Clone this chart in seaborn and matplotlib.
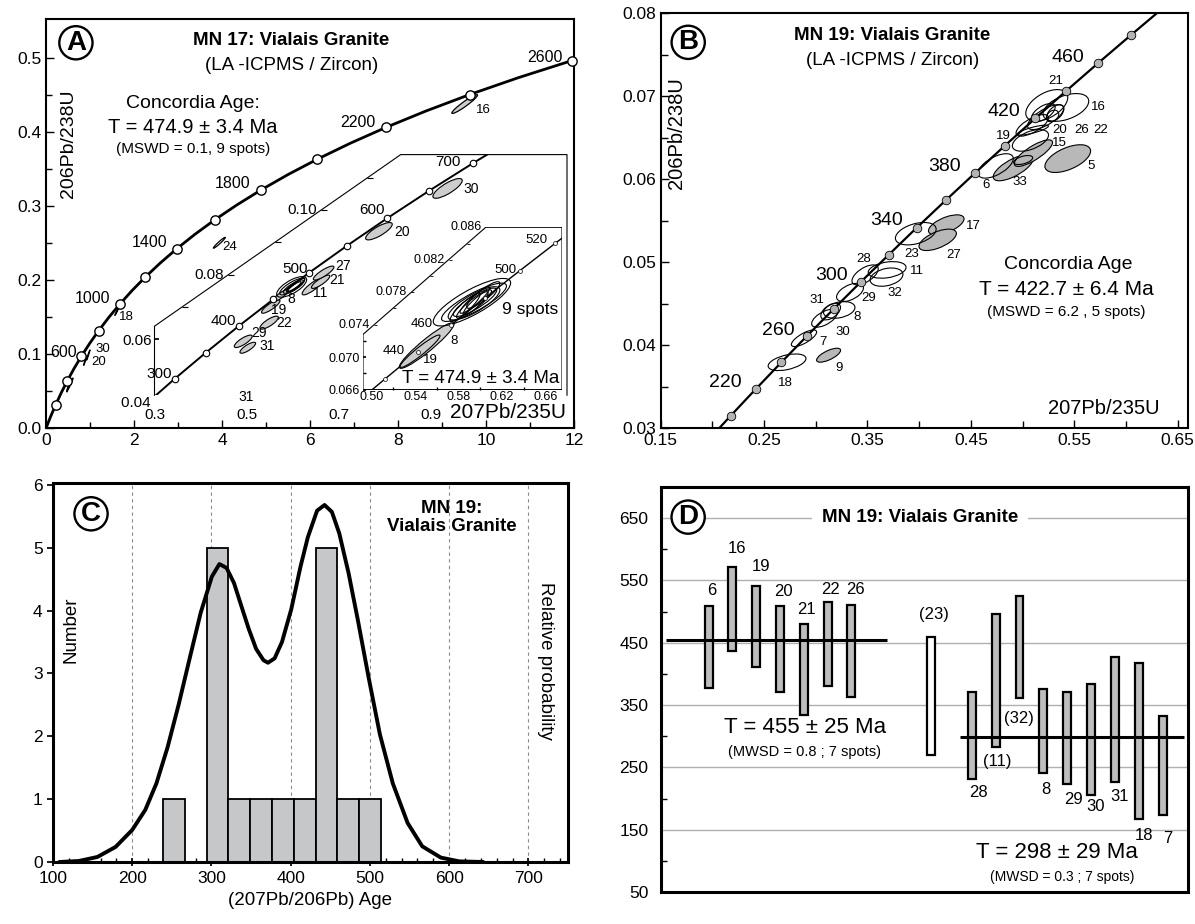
import numpy as np
import pandas as pd
import matplotlib
matplotlib.use("Agg")
import matplotlib.pyplot as plt
import seaborn as sns
from matplotlib.patches import Ellipse, Polygon
from matplotlib.transforms import Affine2D
from matplotlib.ticker import FixedLocator, FormatStrFormatter
from matplotlib.lines import TICKRIGHT

# ============================ DATA ============================
# Concordia curve points (age in Ma, 207Pb/235U, 206Pb/238U)
conc_age = [0, 100, 180, 200, 220, 240, 250, 260, 280, 300, 320, 340, 350, 360, 380, 400, 420, 440, 450, 460,
            480, 500, 520, 540, 550, 600, 650, 700, 750, 800, 900, 1000, 1100, 1200, 1300, 1400, 1500, 1600,
            1700, 1800, 1900, 2000, 2100, 2200, 2300, 2400, 2500, 2600]
conc_x = [0.0, 0.1035, 0.1940, 0.2177, 0.2419, 0.2666, 0.2792, 0.2918, 0.3175, 0.3437, 0.3705, 0.3977, 0.4116,
          0.4255, 0.4539, 0.4828, 0.5123, 0.5424, 0.5577, 0.5731, 0.6044, 0.6363, 0.6688, 0.7020, 0.7188, 0.8056,
          0.8968, 0.9925, 1.0930, 1.1987, 1.4264, 1.6774, 1.9545, 2.2604, 2.5977, 2.9703, 3.3811, 3.8348, 4.3351,
          4.8875, 5.4962, 6.1694, 6.9105, 7.7303, 8.6327, 9.6311, 10.7302, 11.9457]
conc_y = [0.0, 0.01563, 0.02832, 0.03151, 0.03472, 0.03793, 0.03954, 0.04116, 0.04439, 0.04764, 0.05089, 0.05416,
          0.05579, 0.05743, 0.06072, 0.06402, 0.06732, 0.07064, 0.07230, 0.07397, 0.07730, 0.08065, 0.08401, 0.08738,
          0.08906, 0.09754, 0.10609, 0.11470, 0.12338, 0.13213, 0.14983, 0.16781, 0.18607, 0.20461, 0.22343, 0.24257,
          0.26200, 0.28172, 0.30175, 0.32211, 0.34278, 0.36377, 0.38509, 0.40674, 0.42873, 0.45107, 0.47374, 0.49679]

# Panel A (main) error ellipses: centre, half-extents, error correlation, style group
a_ell_x = [9.516, 3.939, 1.61, 0.96, 0.89, 0.55, 0.52, 0.58, 0.50]
a_ell_y = [0.4382, 0.2507, 0.158, 0.099, 0.091, 0.060, 0.057, 0.063, 0.054]
a_ell_sx = [0.292, 0.136, 0.045, 0.04, 0.035, 0.04, 0.04, 0.035, 0.03]
a_ell_sy = [0.0127, 0.0074, 0.0055, 0.007, 0.006, 0.006, 0.006, 0.005, 0.005]
a_ell_rho = [0.95, 0.97, 0.98, 0.98, 0.98, 0.95, 0.95, 0.95, 0.95]
a_ell_grp = ['gray', 'open', 'dark', 'dark', 'dark', 'dark', 'dark', 'dark', 'dark']

# Panel A, first inset (300-700 Ma)
i1_ell_x = [0.4928, 0.5026, 0.5490, 0.5525, 0.5740, 0.6435, 0.6609, 0.6674, 0.7875, 0.9366,
            0.5979, 0.5990, 0.6014, 0.6066, 0.6040]
i1_ell_y = [0.0593, 0.0573, 0.0651, 0.0701, 0.0735, 0.0763, 0.0778, 0.0805, 0.0935, 0.1068,
            0.0762, 0.0763, 0.0763, 0.0768, 0.0763]
i1_ell_sx = [0.0195, 0.0170, 0.0200, 0.0200, 0.0163, 0.0228, 0.0200, 0.0224, 0.0289, 0.0319,
             0.0326, 0.0271, 0.0217, 0.0200, 0.0145]
i1_ell_sy = [0.00193, 0.00171, 0.00202, 0.00208, 0.0018, 0.00258, 0.00207, 0.00217, 0.0027, 0.00307,
             0.0032, 0.00258, 0.00207, 0.00207, 0.00155]
i1_ell_rho = [0.8, 0.8, 0.8, 0.85, 0.85, 0.85, 0.85, 0.85, 0.8, 0.8,
              0.7, 0.8, 0.85, 0.9, 0.9]
i1_ell_grp = ['gray'] * 10 + ['open'] * 5

# Panel A, second inset (440-520 Ma, 9 concordant spots)
i2_ell_x = [0.5506, 0.5445, 0.5923, 0.5942, 0.5942, 0.5951, 0.5942, 0.5951, 0.5957, 0.5859, 0.6027]
i2_ell_y = [0.07143, 0.07073, 0.07677, 0.07676, 0.07663, 0.07676, 0.07655, 0.07704, 0.07663, 0.07614, 0.07766]
i2_ell_sx = [0.0252, 0.0184, 0.0356, 0.0299, 0.0238, 0.0200, 0.0161, 0.0138, 0.0115, 0.0138, 0.0153]
i2_ell_sy = [0.00281, 0.0020, 0.00293, 0.00236, 0.00205, 0.00175, 0.00175, 0.00164, 0.00144, 0.00175, 0.00164]
i2_ell_rho = [0.94, 0.95, 0.81, 0.85, 0.80, 0.85, 0.90, 0.92, 0.90, 0.90, 0.88]
i2_ell_grp = ['gray', 'gray'] + ['open'] * 9

# Panel B error ellipses
b_ell_x = [0.3124, 0.4262, 0.4179, 0.4910, 0.5105, 0.5437,
           0.2722, 0.2886, 0.3084, 0.3144, 0.3227, 0.3331, 0.3477, 0.3690, 0.3684, 0.3967, 0.4740, 0.5006,
           0.5076, 0.5234, 0.5419, 0.5094, 0.5223, 0.5316, 0.5200, 0.5290, 0.5100]
b_ell_y = [0.0388, 0.0545, 0.05269, 0.06137, 0.06313, 0.06247,
           0.03795, 0.04084, 0.04325, 0.04405, 0.04425, 0.04636, 0.04847, 0.04907, 0.0482, 0.05343, 0.06159, 0.0623,
           0.06466, 0.06888, 0.06863, 0.06647, 0.06747, 0.06795, 0.0680, 0.0676, 0.0659]
b_ell_sx = [0.0116, 0.0172, 0.0181, 0.0194, 0.0185, 0.0221,
            0.0183, 0.0122, 0.0124, 0.0095, 0.0152, 0.0130, 0.0127, 0.0183, 0.0159, 0.0197, 0.0170, 0.0092,
            0.0175, 0.0203, 0.0221, 0.0157, 0.0175, 0.0083, 0.0115, 0.0060, 0.0150]
b_ell_sy = [0.00084, 0.0012, 0.00129, 0.00157, 0.0016, 0.00167,
            0.0010, 0.0010, 0.00108, 0.0010, 0.0010, 0.0011, 0.0012, 0.0010, 0.0011, 0.00135, 0.00147, 0.00054,
            0.0013, 0.0019, 0.00167, 0.0013, 0.0015, 0.0010, 0.0011, 0.0007, 0.0006]
b_ell_rho = [0.7, 0.6, 0.6, 0.7, 0.8, 0.55,
             0.45, 0.75, 0.6, 0.5, 0.3, 0.5, 0.6, 0.3, 0.3, 0.4, 0.6, 0.5,
             0.5, 0.5, 0.45, 0.7, 0.7, 0.5, 0.6, 0.3, 0.8]
b_ell_grp = ['gray'] * 6 + ['open'] * 21

# Panel C: histogram of 207Pb/206Pb ages and relative probability curve
hist_edges = [239, 266.5, 294, 321.5, 349, 376.5, 404, 431.5, 459, 486.5, 514]
hist_centers = [252.75, 280.25, 307.75, 335.25, 362.75, 390.25, 417.75, 445.25, 472.75, 500.25]
hist_counts = [1, 0, 5, 1, 1, 1, 1, 5, 1, 1]
prob_x = [108, 132.6, 156, 179, 200, 216.5, 230.5, 244.5, 258.5, 272.5, 286.5, 300.5, 310, 319, 328.4, 337.8,
          347, 356.4, 365.7, 371.3, 379.7, 389, 400.7, 412.4, 421.7, 433.3, 442.7, 452, 461.3, 473, 484.6,
          498.6, 512.6, 528.9, 547.6, 566, 589.5, 612.8, 643]
prob_y = [0.0, 0.016, 0.08, 0.24, 0.51, 0.83, 1.25, 1.82, 2.5, 3.24, 3.97, 4.54, 4.74, 4.68, 4.44, 4.07,
          3.71, 3.39, 3.21, 3.17, 3.24, 3.5, 4.02, 4.7, 5.17, 5.59, 5.68, 5.57, 5.23, 4.6, 3.86,
          2.92, 2.03, 1.25, 0.62, 0.25, 0.07, 0.01, 0.0]

# Panel D: individual spot ages (error bars)
d_labels = ['6', '16', '19', '20', '21', '22', '26', '(23)', '28', '(11)', '(32)', '8', '29', '30', '31', '18', '7']
d_low = [378, 436, 411, 370.5, 333.5, 380, 363.6, 270, 231, 283.5, 362, 241, 222.7, 205.7, 226.7, 167, 173]
d_high = [509.7, 572, 541.5, 508.5, 480, 516, 511.4, 459, 370.5, 495.5, 525, 376, 370.5, 384, 427, 417, 333]
d_group = ['old'] * 7 + ['rejected'] + ['young'] * 9
d_mean_old = 455
d_mean_young = 298

# ============================ STYLE ============================
sns.set_theme(style="ticks", rc={"axes.edgecolor": "black", "xtick.color": "black", "ytick.color": "black",
                                 "text.color": "black", "axes.labelcolor": "black"})
plt.rcParams['font.family'] = ['Liberation Sans', 'DejaVu Sans']

W, H = 1195, 924
fig = plt.figure(figsize=(W / 100, H / 100), dpi=100)


def rect(l, r, t, b):
    return [l / W, 1 - b / H, (r - l) / W, (b - t) / H]


conc = pd.DataFrame(dict(age=conc_age, x=conc_x, y=conc_y))
fills = {'gray': '#cdcdcd', 'open': 'white', 'dark': '#303030'}


def draw_ellipses(ax, xs, ys, sxs, sys_, rhos, grps, fill_map, lw=0.8, clip=None, z=3):
    order = [i for i, g in enumerate(grps) if g != 'open'] + [i for i, g in enumerate(grps) if g == 'open']
    for i in order:
        x, y, sx, sy, r, g = xs[i], ys[i], sxs[i], sys_[i], rhos[i], grps[i]
        T = Affine2D(np.array([[sx, 0.0, x], [sy * r, sy * np.sqrt(1 - r * r), y], [0, 0, 1]]))
        fc = 'none' if g == 'open' else fill_map[g]
        e = Ellipse((0, 0), 2, 2, transform=T + ax.transData, fc=fc, ec='black', lw=lw,
                    zorder=z + (1 if g == 'open' else 0))
        ax.add_patch(e)
        if clip is not None:
            e.set_clip_path(clip)


def circ(ax, x, y, letter):
    ax.text(x, y, letter, fontsize=20, fontweight='bold', ha='center', va='center', zorder=10,
            bbox=dict(boxstyle='circle,pad=0.13', fc='white', ec='black', lw=1.7))


# ============================ PANEL A ============================
axA = fig.add_axes(rect(46, 574, 19.1, 428.3))
sub = conc[conc.age % 100 == 0]
sns.lineplot(data=sub, x='x', y='y', ax=axA, color='black', linewidth=2.0, sort=False, estimator=None, zorder=2)
mk = conc[(conc.age % 200 == 0) & (conc.age > 0)]
sns.scatterplot(data=mk, x='x', y='y', ax=axA, s=45, color='white', edgecolor='black', linewidth=1.0, zorder=5,
                clip_on=False)
draw_ellipses(axA, a_ell_x, a_ell_y, a_ell_sx, a_ell_sy, a_ell_rho, a_ell_grp, fills, lw=0.9)
axA.set_xlim(0, 12)
axA.set_ylim(0, 0.553)
axA.set_xticks([0, 2, 4, 6, 8, 10, 12])
axA.xaxis.set_minor_locator(FixedLocator([1, 3, 5, 7, 9, 11]))
axA.set_yticks([0.0, 0.1, 0.2, 0.3, 0.4, 0.5])
axA.yaxis.set_minor_locator(FixedLocator([0.05, 0.15, 0.25, 0.35, 0.45]))
axA.yaxis.set_major_formatter(FormatStrFormatter('%.1f'))
axA.tick_params(which='both', direction='in', labelsize=12.5)
axA.tick_params(which='major', length=6, width=1)
axA.tick_params(which='minor', length=4, width=1)
axA.set_xlabel('')
axA.set_ylabel('')
for s in axA.spines.values():
    s.set_linewidth(1.5)

circ(axA, 0.68, 0.521, 'A')
axA.text(5.58, 0.524, 'MN 17: Vialais Granite', fontsize=13.5, fontweight='bold', ha='center', va='center')
axA.text(5.58, 0.490, '(LA -ICPMS / Zircon)', fontsize=13.5, ha='center', va='center')
axA.text(3.34, 0.4388, 'Concordia Age:', fontsize=14, ha='center', va='center')
axA.text(3.34, 0.4064, 'T = 474.9 ± 3.4 Ma', fontsize=14.5, ha='center', va='center')
axA.text(3.34, 0.3778, '(MSWD = 0.1, 9 spots)', fontsize=11, ha='center', va='center')
axA.text(0.51, 0.385, '206Pb/238U', fontsize=14, rotation=90, ha='center', va='center')
axA.text(10.51, 0.022, '207Pb/235U', fontsize=15, ha='center', va='center')
for t, x, y in [('600', 0.39, 0.102), ('1000', 1.05, 0.176), ('1400', 2.356, 0.2507), ('1800', 4.244, 0.3306),
                ('2200', 7.08, 0.413), ('2600', 11.33, 0.5012)]:
    axA.text(x, y, t, fontsize=11.5, ha='center', va='center')
for t, x, y in [('16', 9.94, 0.4299), ('24', 4.18, 0.2446), ('18', 1.834, 0.1508), ('30', 1.288, 0.1067),
                ('20', 1.189, 0.090)]:
    axA.text(x, y, t, fontsize=9.5, ha='center', va='center')

# ---------- inset 1 ----------
ax1 = fig.add_axes(rect(154.5, 567, 154.6, 395.4))
x0, x1, y0, y1 = 0.3, 1.196, 0.0425, 0.1173
yd1, xd1 = 0.0640, 0.8348
ax1.set_xlim(x0, x1)
ax1.set_ylim(y0, y1)
ax1.patch.set_visible(False)
for s in ax1.spines.values():
    s.set_visible(False)
poly1 = Polygon([(x0, y0), (x0, yd1), (xd1, y1), (x1, y1), (x1, y0)], closed=True, fc='white', ec='none', zorder=0.5)
ax1.add_patch(poly1)
ax1.plot([x0, x0, xd1, x1, x1], [y0, yd1, y1, y1, y0], color='black', lw=0.8, zorder=1, clip_on=False)
sub1 = conc[(conc.age >= 250) & (conc.age <= 800) & (conc.age % 50 == 0)]
sns.lineplot(data=sub1, x='x', y='y', ax=ax1, color='black', linewidth=1.4, sort=False, estimator=None, zorder=2)
ax1.lines[-1].set_clip_path(poly1)
mk1 = conc[(conc.age >= 300) & (conc.age <= 750) & (conc.age % 50 == 0)]
sns.scatterplot(data=mk1, x='x', y='y', ax=ax1, s=22, color='white', edgecolor='black', linewidth=0.8, zorder=6)
ax1.collections[-1].set_clip_path(poly1)
draw_ellipses(ax1, i1_ell_x, i1_ell_y, i1_ell_sx, i1_ell_sy, i1_ell_rho, i1_ell_grp, fills, lw=0.8, clip=poly1)
ax1.set_xticks([0.3, 0.5, 0.7, 0.9])
ax1.xaxis.set_major_formatter(FormatStrFormatter('%.1f'))
ax1.tick_params(axis='x', length=0, pad=9, labelsize=11)
ax1.set_yticks([0.06])
ax1.yaxis.set_major_formatter(FormatStrFormatter('%.2f'))
ax1.tick_params(axis='y', direction='in', length=3, pad=2, labelsize=11)
ax1.set_xlabel('')
ax1.set_ylabel('')
ax1.text(x0, 0.040, '0.04 ', fontsize=11, ha='right', va='center', clip_on=False)
slope1 = (y1 - yd1) / (xd1 - x0)
for yv in [0.07, 0.08, 0.09, 0.10, 0.11]:
    xv = x0 + (yv - yd1) / slope1
    ax1.plot([xv], [yv], marker=TICKRIGHT, ms=4, color='black', mew=0.8, ls='none', zorder=2)
    if yv in (0.08, 0.10):
        ax1.annotate('%.2f' % yv, xy=(xv, yv), xytext=(-3, 0), textcoords='offset points', ha='right',
                     va='center', fontsize=11)
for t, x, y in [('700', 0.9375, 0.1149), ('600', 0.7733, 0.1001), ('500', 0.6051, 0.0817), ('400', 0.4494, 0.0656),
                ('300', 0.3100, 0.0491)]:
    ax1.text(x, y, t, fontsize=11, ha='center', va='center')
for t, x, y in [('30', 0.9868, 0.1067), ('20', 0.8374, 0.0934), ('27', 0.7095, 0.0827), ('21', 0.6971, 0.0783),
                ('11', 0.6600, 0.0742), ('8', 0.5960, 0.0726), ('19', 0.5704, 0.0690), ('22', 0.5807, 0.0650),
                ('29', 0.5273, 0.0619), ('31', 0.5436, 0.0578), ('31', 0.4985, 0.0420)]:
    ax1.text(x, y, t, fontsize=10, ha='center', va='center', clip_on=False)

# ---------- inset 2 ----------
ax2 = fig.add_axes(rect(363, 562, 227.3, 389.6))
u0, u1, v0, v1 = 0.492, 0.6752, 0.066, 0.086
vd2, ud2 = 0.0728, 0.605
ax2.set_xlim(u0, u1)
ax2.set_ylim(v0, v1)
ax2.patch.set_visible(False)
for s in ax2.spines.values():
    s.set_visible(False)
poly2 = Polygon([(u0, v0), (u0, vd2), (ud2, v1), (u1, v1), (u1, v0)], closed=True, fc='white', ec='black',
                lw=0.8, zorder=0.5)
ax2.add_patch(poly2)
sub2 = conc[(conc.age >= 400) & (conc.age <= 540) & (conc.age % 20 == 0)]
sns.lineplot(data=sub2, x='x', y='y', ax=ax2, color='black', linewidth=1.0, sort=False, estimator=None, zorder=2)
ax2.lines[-1].set_clip_path(poly2)
mk2 = conc[(conc.age >= 420) & (conc.age <= 520) & (conc.age % 20 == 0)]
sns.scatterplot(data=mk2, x='x', y='y', ax=ax2, s=8, color='white', edgecolor='black', linewidth=0.5, zorder=6)
ax2.collections[-1].set_clip_path(poly2)
draw_ellipses(ax2, i2_ell_x, i2_ell_y, i2_ell_sx, i2_ell_sy, i2_ell_rho, i2_ell_grp, fills, lw=0.8, clip=poly2)
ax2.set_xticks([0.50, 0.54, 0.58, 0.62, 0.66])
ax2.xaxis.set_minor_locator(FixedLocator([0.52, 0.56, 0.60, 0.64]))
ax2.xaxis.set_major_formatter(FormatStrFormatter('%.2f'))
ax2.tick_params(axis='x', which='major', length=0, pad=1, labelsize=9)
ax2.tick_params(axis='x', which='minor', direction='in', length=2)
ax2.set_yticks([0.066, 0.070])
ax2.yaxis.set_minor_locator(FixedLocator([0.068, 0.072]))
ax2.yaxis.set_major_formatter(FormatStrFormatter('%.3f'))
ax2.tick_params(axis='y', which='major', direction='in', length=2, pad=2, labelsize=9)
ax2.tick_params(axis='y', which='minor', direction='in', length=2)
ax2.set_xlabel('')
ax2.set_ylabel('')
slope2 = (v1 - vd2) / (ud2 - u0)
for yv in [0.074, 0.076, 0.078, 0.080, 0.082, 0.084, 0.086]:
    xv = u0 + (yv - vd2) / slope2
    if yv < 0.0859:
        ax2.plot([xv], [yv], marker=TICKRIGHT, ms=2.5, color='black', mew=0.6, ls='none', zorder=2)
    if yv in (0.074, 0.078, 0.082, 0.086):
        ax2.annotate('%.3f' % yv, xy=(xv, yv), xytext=(-3, 0), textcoords='offset points', ha='right',
                     va='center', fontsize=9)
for t, x, y in [('520', 0.6518, 0.0844), ('500', 0.6227, 0.0807), ('460', 0.5460, 0.0741), ('440', 0.5199, 0.0708),
                ('8', 0.5760, 0.0720), ('19', 0.5537, 0.0697)]:
    ax2.text(x, y, t, fontsize=9.5, ha='center', va='center')
ax2.text(0.6457, 0.0759, '9 spots', fontsize=12.5, ha='center', va='center')
ax2.text(0.6003, 0.0674, 'T = 474.9 ± 3.4 Ma', fontsize=13.5, ha='center', va='center')

# ============================ PANEL B ============================
axB = fig.add_axes(rect(660.7, 1188, 13, 428.3))
subB = conc[(conc.age >= 180) & (conc.age <= 520) & (conc.age % 20 == 0)]
sns.lineplot(data=subB, x='x', y='y', ax=axB, color='black', linewidth=1.6, sort=False, estimator=None, zorder=2)
mkB = conc[(conc.age >= 200) & (conc.age <= 480) & (conc.age % 20 == 0)]
sns.scatterplot(data=mkB, x='x', y='y', ax=axB, s=38, color='#b4b4b4', edgecolor='black', linewidth=0.6, zorder=7)
draw_ellipses(axB, b_ell_x, b_ell_y, b_ell_sx, b_ell_sy, b_ell_rho, b_ell_grp, {'gray': '#b8b8b8'}, lw=0.8)
axB.set_xlim(0.15, 0.66)
axB.set_ylim(0.03, 0.08)
axB.set_xticks([0.15, 0.25, 0.35, 0.45, 0.55, 0.65])
axB.xaxis.set_minor_locator(FixedLocator([0.2, 0.3, 0.4, 0.5, 0.6]))
axB.xaxis.set_major_formatter(FormatStrFormatter('%.2f'))
axB.set_yticks([0.03, 0.04, 0.05, 0.06, 0.07, 0.08])
axB.yaxis.set_minor_locator(FixedLocator([0.035, 0.045, 0.055, 0.065, 0.075]))
axB.yaxis.set_major_formatter(FormatStrFormatter('%.2f'))
axB.tick_params(which='both', direction='in', labelsize=12.5)
axB.tick_params(which='major', length=6, width=1)
axB.tick_params(which='minor', length=5, width=1)
axB.set_xlabel('')
axB.set_ylabel('')
for s in axB.spines.values():
    s.set_linewidth(1.5)
circ(axB, 0.1766, 0.07647, 'B')
axB.text(0.374, 0.07727, 'MN 19: Vialais Granite', fontsize=13.5, fontweight='bold', ha='center', va='center')
axB.text(0.374, 0.07426, '(LA -ICPMS / Zircon)', fontsize=13.5, ha='center', va='center')
axB.text(0.5437, 0.04976, 'Concordia Age', fontsize=14, ha='center', va='center')
axB.text(0.5419, 0.04675, 'T = 422.7 ± 6.4 Ma', fontsize=15, ha='center', va='center')
axB.text(0.5419, 0.04398, '(MSWD = 6.2 , 5 spots)', fontsize=11, ha='center', va='center')
axB.text(0.5788, 0.03241, '207Pb/235U', fontsize=14.5, ha='center', va='center')
axB.text(0.1655, 0.06554, '206Pb/238U', fontsize=14.5, rotation=90, ha='center', va='center')
for t, x, y in [('220', 0.2124, 0.0355), ('260', 0.264, 0.0418), ('300', 0.3157, 0.0484), ('340', 0.3685, 0.0550),
                ('380', 0.425, 0.0615), ('420', 0.482, 0.0682), ('460', 0.5437, 0.0747)]:
    axB.text(x, y, t, fontsize=14, ha='center', va='center')
for t, x, y in [('21', 0.5319, 0.07177), ('16', 0.5733, 0.06863), ('20', 0.5363, 0.06594), ('26', 0.5567, 0.06594),
                ('22', 0.5751, 0.06594), ('19', 0.4810, 0.06522), ('15', 0.5356, 0.06434), ('5', 0.5659, 0.06153),
                ('6', 0.4644, 0.05932), ('33', 0.4969, 0.05960), ('17', 0.4526, 0.05430), ('23', 0.3924, 0.05100),
                ('27', 0.4330, 0.05088), ('28', 0.3463, 0.05036), ('11', 0.3980, 0.04888), ('32', 0.3766, 0.04627),
                ('29', 0.3511, 0.04566), ('31', 0.3013, 0.04546), ('8', 0.3397, 0.04345), ('30', 0.3260, 0.04165),
                ('7', 0.3068, 0.04044), ('9', 0.3223, 0.03723), ('18', 0.2707, 0.03550)]:
    axB.text(x, y, t, fontsize=9.5, ha='center', va='center')

# ============================ PANEL C ============================
axC = fig.add_axes(rect(53, 568, 483, 862))
axC.xaxis.grid(True, which='major', ls=(0, (3, 3)), color='#8c8c8c', lw=0.8)
axC.set_axisbelow(True)
sns.histplot(x=hist_centers, weights=hist_counts, bins=hist_edges, ax=axC, color='#c6c7c9', edgecolor='black',
             linewidth=1.3, alpha=1.0, zorder=2)
sns.lineplot(x=prob_x, y=prob_y, ax=axC, color='black', linewidth=2.8, sort=False, estimator=None, zorder=3)
axC.set_xlim(100, 750)
axC.set_ylim(0, 6.03)
axC.set_xticks([100, 200, 300, 400, 500, 600, 700])
axC.xaxis.set_minor_locator(FixedLocator([v for v in range(120, 750, 20) if v % 100 != 0]))
axC.set_yticks([0, 1, 2, 3, 4, 5, 6])
axC.tick_params(axis='y', direction='out', length=4, labelsize=12.5)
axC.tick_params(axis='x', which='major', direction='inout', length=6, labelsize=12.5)
axC.tick_params(axis='x', which='minor', direction='in', length=3)
axC.set_ylabel('')
axC.set_xlabel('(207Pb/206Pb) Age', fontsize=13.5, labelpad=4)
for s in axC.spines.values():
    s.set_linewidth(2.2)
circ(axC, 148, 5.54, 'C')
axC.text(603, 5.48, 'MN 19:\nVialais Granite', fontsize=13.5, fontweight='bold', ha='center', va='center',
         linespacing=1.05)
axC.text(123, 3.7, 'Number', fontsize=13.5, rotation=90, ha='center', va='center')
axC.text(722, 3.2, 'Relative probability', fontsize=13.5, rotation=270, ha='center', va='center')

# ============================ PANEL D ============================
axD = fig.add_axes(rect(661, 1188, 487, 892))
d_pos = [2, 3, 4, 5, 6, 7, 8, 11.33, 13.07, 14.07, 15.06, 16.06, 17.07, 18.08, 19.07, 20.07, 21.08]
d_fill = ['white' if g == 'rejected' else '#bdbdbd' for g in d_group]
axD.bar(d_pos, np.array(d_high) - np.array(d_low), bottom=d_low, width=0.33, color=d_fill, edgecolor='black',
        linewidth=1.6, zorder=3)
axD.hlines(d_mean_old, 0.2, 9.5, color='black', lw=2.2, zorder=4)
axD.hlines(d_mean_young, 12.56, 21.97, color='black', lw=2.2, zorder=4)
axD.set_xlim(0, 22.14)
axD.set_ylim(50, 700)
axD.set_xticks([])
axD.set_yticks([50, 150, 250, 350, 450, 550, 650])
axD.yaxis.set_minor_locator(FixedLocator([100, 200, 300, 400, 500, 600]))
axD.yaxis.grid(True, which='major', color='#b0b0b0', lw=1.0)
axD.tick_params(axis='y', which='major', length=0, pad=9, labelsize=12.5)
axD.tick_params(axis='y', which='minor', direction='in', length=4)
for s in axD.spines.values():
    s.set_linewidth(2.2)
d_lab_xy = [(2.12, 533.5), (3.21, 601.7), (4.19, 572.2), (5.14, 532.4), (6.10, 502.8), (7.13, 534.7), (8.16, 534.7),
            (11.47, 494.9), (13.33, 209.7), (14.14, 259.7), (15.02, 327.8), (16.18, 215.3), (17.32, 198.3),
            (18.25, 186.9), (19.28, 203.9), (20.30, 141.0), (21.29, 135.8)]
for t, (x, y) in zip(d_labels, d_lab_xy):
    axD.text(x, y, t, fontsize=12, ha='center', va='center', zorder=5)
circ(axD, 1.14, 651.7, 'D')
axD.text(10.88, 651.0, 'MN 19: Vialais Granite', fontsize=13.5, fontweight='bold', ha='center', va='center',
         zorder=5, bbox=dict(fc='white', ec='none', pad=7))
axD.text(6.04, 314.8, 'T = 455 ± 25 Ma', fontsize=16, ha='center', va='center', zorder=5)
axD.text(6.04, 275, '(MWSD = 0.8 ; 7 spots)', fontsize=10.5, ha='center', va='center', zorder=5)
axD.text(16.65, 113, 'T = 298 ± 29 Ma', fontsize=16, ha='center', va='center', zorder=5)
axD.text(16.84, 73.3, '(MWSD = 0.3 ; 7 spots)', fontsize=10, ha='center', va='center', zorder=5)

fig.savefig('out.png', dpi=100)
